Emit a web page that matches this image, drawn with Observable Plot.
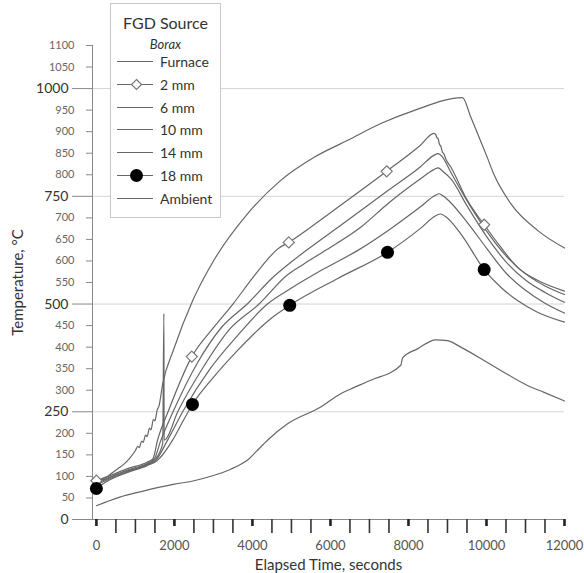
<!DOCTYPE html>
<html><head><meta charset="utf-8">
<script src="https://cdn.jsdelivr.net/npm/d3@7"></script>
<script src="https://cdn.jsdelivr.net/npm/@observablehq/plot@0.6"></script>
<style>
body{margin:0;background:#fff;font-family:Lato,"Open Sans",sans-serif}
#wrap{position:relative;width:584px;height:573px}
#legend{position:absolute;left:110px;top:3px;width:111px;height:215px;border:1px solid #c8c8c8;background:#fff;box-sizing:border-box;color:#333}
#legend .t{position:absolute;left:0;width:100%;text-align:center}
#legend .row{position:absolute;left:0;height:20px;width:100%}
#legend .row svg{position:absolute;left:6px;top:0}
#legend .row span{position:absolute;left:49px;top:1px;font-size:14px;line-height:18px}
</style></head><body>
<div id="wrap"></div>
<script>
// Series (time in seconds, temperature in °C)
const furnace = [[0,78],[100,90],[250,98],[400,108],[550,118],[700,128],[850,142],[1000,160],[1060,170],[1100,167],[1160,182],[1200,179],[1260,196],[1300,192],[1360,212],[1400,208],[1460,232],[1500,229],[1560,255],[1600,262],[1700,315],[1982,395],[2469,508],[3008,601],[3879,710],[4726,787],[5572,840],[6444,880],[7290,919],[8136,949],[9384,979],[9597,934],[9810,887],[10000,845],[10195,800],[10623,733],[11308,671],[12000,630]];
const mm2 = [[0,90],[300,100],[800,118],[1300,133],[1450,141],[1564,183],[1850,253],[2446,378],[3000,445],[3500,500],[4000,560],[4400,605],[4650,628],[4931,643],[6000,712],[7441,808],[8300,868],[8654,896],[8700,893],[8730,886],[8760,884],[8790,872],[8830,866],[8870,853],[8910,848],[8960,836],[9085,818],[9513,740],[9941,684],[10367,632],[10795,585],[11308,555],[12000,530]];
const mm6 = [[0,85],[300,97],[800,115],[1300,130],[1480,140],[1649,183],[1980,253],[2600,365],[3200,445],[3900,503],[4500,560],[5000,598],[5315,620],[6300,685],[7500,765],[8300,818],[8650,845],[8760,849],[8880,840],[9085,806],[9500,740],[10000,670],[10500,612],[11000,570],[11500,542],[12000,522]];
const mm10 = [[0,83],[300,95],[800,113],[1300,128],[1500,139],[1700,176],[1730,478],[1736,184],[2100,253],[2750,355],[3400,440],[4170,500],[4900,568],[5300,592],[5828,622],[6800,680],[7500,735],[8300,790],[8650,812],[8760,816],[8880,808],[9085,791],[9500,728],[10000,657],[10500,598],[11000,556],[11500,527],[12000,504]];
const mm14 = [[0,80],[300,93],[800,111],[1300,127],[1520,137],[1818,183],[2230,253],[2900,348],[3600,425],[4384,500],[5000,537],[5800,580],[6692,624],[7500,672],[8300,725],[8680,752],[8790,756],[8900,750],[9085,735],[9500,690],[10000,630],[10500,572],[11000,532],[11500,502],[12000,479]];
const mm18 = [[0,72],[300,90],[800,109],[1300,125],[1550,136],[1946,183],[2200,225],[2462,267],[3000,330],[3615,392],[4469,466],[4956,497],[6200,560],[7462,620],[8300,675],[8700,705],[8823,709],[8950,703],[9341,663],[9941,580],[10367,539],[10795,508],[11308,481],[12000,458]];
const ambient = [[0,32],[600,52],[1200,66],[2000,82],[2500,90],[3000,102],[3400,115],[3700,128],[3900,140],[4100,158],[4400,185],[4900,222],[5750,261],[6264,292],[6521,303],[7033,323],[7803,358],[7850,375],[8231,396],[8700,417],[9000,415],[9341,400],[9938,369],[10367,346],[11051,311],[11477,295],[12000,275]];

const seriesNames = ["Furnace","2 mm","6 mm","10 mm","14 mm","18 mm","Ambient"];
const seriesData = [furnace, mm2, mm6, mm10, mm14, mm18, ambient];
const seriesSymbol = ["none","diamond","none","none","none","dot","none"];
const markerTimes2 = [0,2446,4931,7441,9941];
const markerTimes18 = [0,2462,4956,7462,9941];

const majorY = [0,250,500,750,1000];
const minorY = [50,100,150,200,300,350,400,450,550,600,650,700,800,850,900,950,1050,1100];
const majorX = [0,2000,4000,6000,8000,10000,12000];
const minorX = [500,1000,1500,2500,3000,3500,4500,5000,5500,6500,7000,7500,8500,9000,9500,10500,11000,11500];

const rows = seriesData.flatMap((d,i)=>d.map(([t,T])=>({t,T,s:seriesNames[i]})));
const diamonds = mm2.filter(([t])=>markerTimes2.includes(t)).map(([t,T])=>({t,T}));
const dots = mm18.filter(([t])=>markerTimes18.includes(t)).map(([t,T])=>({t,T}));

const lineColor = "#666";
const fmt = d3.format("d");
const chart = Plot.plot({
  width:584, height:573,
  marginLeft:92, marginRight:20, marginTop:45, marginBottom:54,
  x:{domain:[-100,12000]},
  y:{domain:[0,1100]},
  style:{fontFamily:"Lato, 'Open Sans', sans-serif", background:"#fff", overflow:"visible"},
  marks:[
    Plot.gridY(majorY.filter(v=>v>0), {stroke:"#d4d4d4", strokeOpacity:1}),
    Plot.ruleX([-100], {y1:0, y2:1100, stroke:"#888"}),
    Plot.ruleY([0], {stroke:"#888"}),
    Plot.axisY(minorY, {tickSize:6, tickPadding:12, fontSize:11, fill:"#666", stroke:"#888", tickFormat:fmt, label:null}),
    Plot.axisY(majorY, {tickSize:20, tickPadding:4, fontSize:14, fill:"#333", stroke:"#888", tickFormat:fmt, label:null}),
    Plot.axisY([], {label:"Temperature, °C", labelAnchor:"center", labelArrow:"none", labelOffset:80, fontSize:15, fill:"#333"}),
    Plot.axisX(minorX, {tickSize:14, strokeWidth:1.6, stroke:"#333", text:null, label:null}),
    Plot.axisX(majorX, {tickSize:7, strokeWidth:2.6, stroke:"#222", tickPadding:14, fontSize:13, fill:"#555", tickFormat:fmt, label:null}),
    Plot.axisX([], {label:"Elapsed Time, seconds", labelAnchor:"center", labelArrow:"none", labelOffset:50, fontSize:15, fill:"#333"}),
    Plot.line(rows, {x:"t", y:"T", z:"s", stroke:lineColor, strokeWidth:1.2, curve:"monotone-x"}),
    Plot.dot(diamonds, {x:"t", y:"T", symbol:"diamond2", r:5, stroke:"#777", fill:"#fff", strokeWidth:1.2}),
    Plot.dot(dots, {x:"t", y:"T", r:6.5, fill:"#000"})
  ]
});
const wrap = document.getElementById("wrap");
wrap.appendChild(chart);

// Legend
const lg = document.createElement("div");
lg.id = "legend";
let html = '<div class="t" style="top:9px;font-size:16px;line-height:20px">FGD Source</div>'+
           '<div class="t" style="top:32px;font-size:13px;font-style:italic;line-height:16px">Borax</div>';
seriesNames.forEach((n,i)=>{
  const top = 48 + i*22.8;
  let sym = "";
  if (seriesSymbol[i]==="diamond") sym = '<path d="M19.5,4.5 L24.5,9.5 L19.5,14.5 L14.5,9.5 Z" fill="#fff" stroke="#777" stroke-width="1.2"/>';
  if (seriesSymbol[i]==="dot") sym = '<circle cx="19.5" cy="9.5" r="6.5" fill="#000"/>';
  html += `<div class="row" style="top:${top}px"><svg width="40" height="20"><line x1="0" x2="36" y1="9.5" y2="9.5" stroke="${lineColor}" stroke-width="1.2"/>${sym}</svg><span>${n}</span></div>`;
});
lg.innerHTML = html;
wrap.appendChild(lg);
</script>
</body></html>
